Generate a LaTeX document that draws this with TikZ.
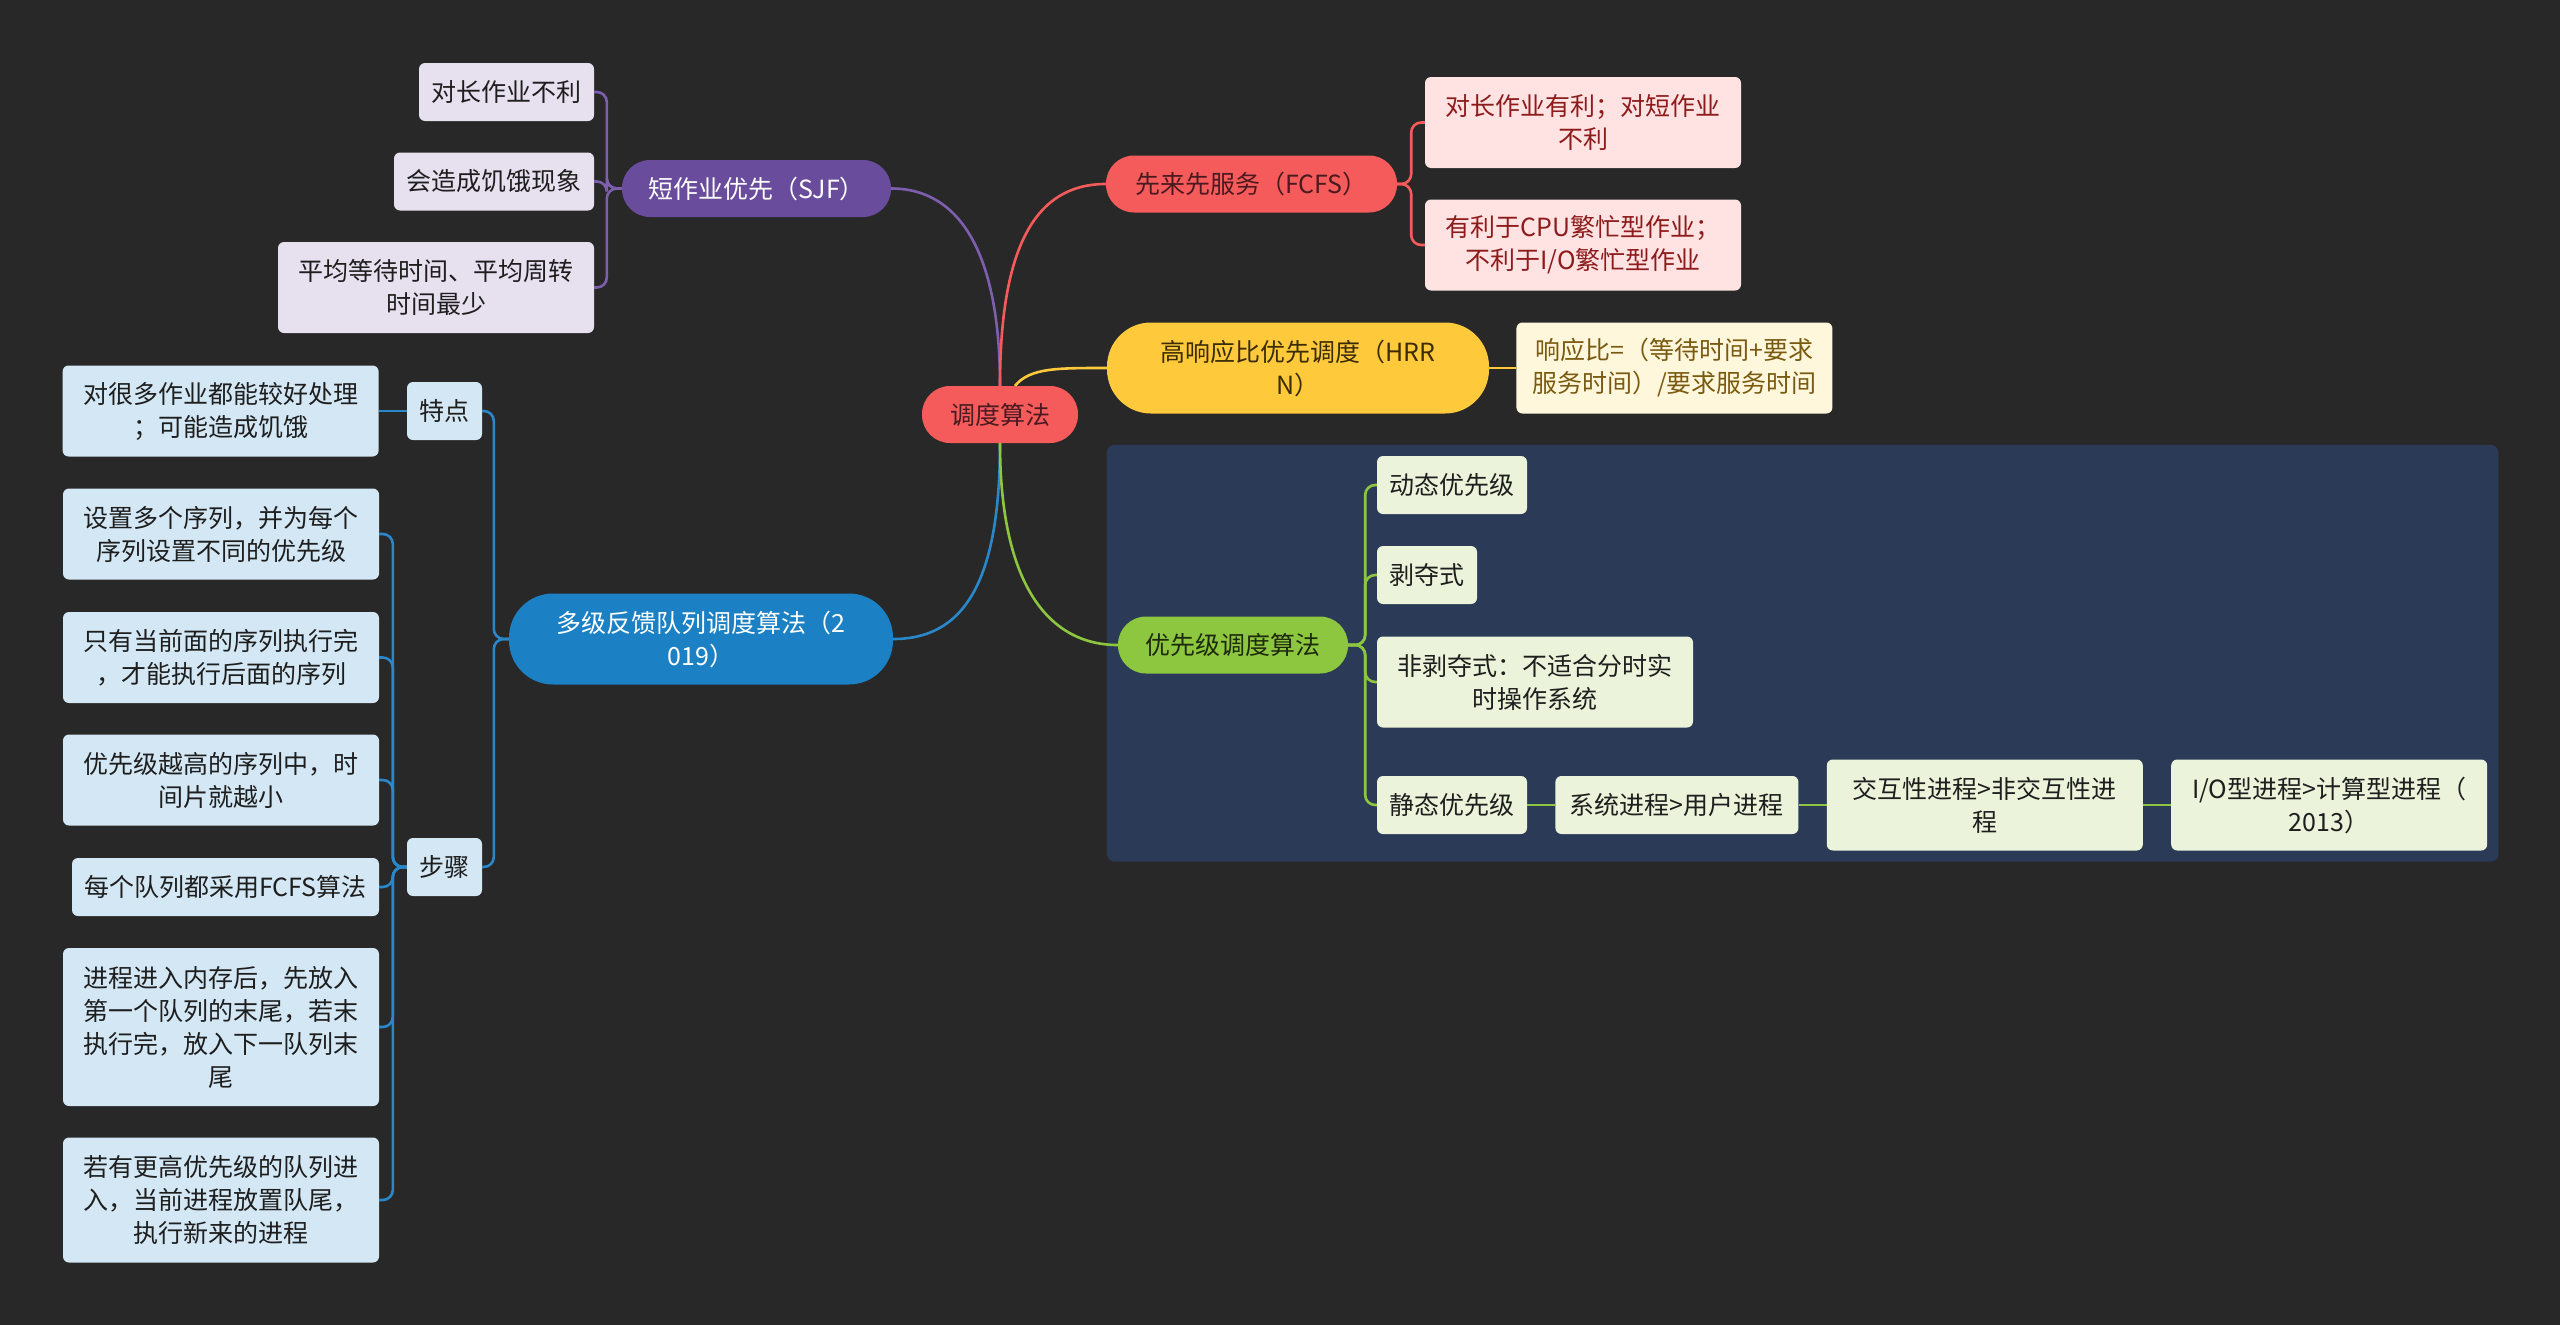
\documentclass[tikz,border=0pt]{standalone}
\usepackage{fontspec}
\setmainfont{Noto Sans CJK SC}
\usetikzlibrary{positioning,fit,backgrounds}
\definecolor{MapBg}{HTML}{282828}
\definecolor{MapGroup}{HTML}{2B3A56}
\definecolor{MapRed}{HTML}{F65B5C}
\definecolor{MapRedInk}{HTML}{4A1A20}
\definecolor{MapRedLeaf}{HTML}{FFE2E2}
\definecolor{MapRedLeafInk}{HTML}{8E1B1B}
\definecolor{MapPurple}{HTML}{6A4C9C}
\definecolor{MapPurpleLine}{HTML}{7D5FAE}
\definecolor{MapPurpleLeaf}{HTML}{E6E0EF}
\definecolor{MapYellow}{HTML}{FFC93C}
\definecolor{MapYellowInk}{HTML}{3B2C05}
\definecolor{MapYellowLeaf}{HTML}{FFF7DC}
\definecolor{MapYellowLeafInk}{HTML}{7A5A10}
\definecolor{MapGreen}{HTML}{8DC63F}
\definecolor{MapGreenInk}{HTML}{1E2A0C}
\definecolor{MapGreenLeaf}{HTML}{EBF3DA}
\definecolor{MapBlue}{HTML}{1B80C4}
\definecolor{MapBlueLine}{HTML}{2A88CA}
\definecolor{MapBlueLeaf}{HTML}{D3E7F4}
\definecolor{MapInk}{HTML}{1E1E1E}
\tikzset{
  mapfont/.style={font=\fontsize{25}{33}\selectfont},
  branch/.style={mapfont, align=center, rounded corners=28pt, minimum height=57pt,
    inner xsep=12pt, inner ysep=8pt},
  twoline/.style={rounded corners=44pt, minimum height=91pt},
  leaf/.style={mapfont, align=center, rounded corners=6pt, minimum height=58pt,
    inner xsep=10pt, inner ysep=8pt},
  widebox/.style={minimum width=316pt, minimum height=91pt},
  rootnode/.style={branch, fill=MapRed, text=MapRedInk},
  sjfbranch/.style={branch, fill=MapPurple, text=white},
  sjfleaf/.style={leaf, fill=MapPurpleLeaf, text=MapInk},
  fcfsbranch/.style={branch, fill=MapRed, text=MapRedInk},
  fcfsleaf/.style={leaf, fill=MapRedLeaf, text=MapRedLeafInk},
  hrrnbranch/.style={branch, fill=MapYellow, text=MapYellowInk},
  hrrnleaf/.style={leaf, fill=MapYellowLeaf, text=MapYellowLeafInk},
  priobranch/.style={branch, fill=MapGreen, text=MapGreenInk},
  prioleaf/.style={leaf, fill=MapGreenLeaf, text=MapInk},
  mlfqbranch/.style={branch, fill=MapBlue, text=white},
  mlfqleaf/.style={leaf, fill=MapBlueLeaf, text=MapInk},
  groupbox/.style={fill=MapGroup, rounded corners=8pt, inner sep=11pt},
  wire/.style={line width=2.6pt, rounded corners=10pt},
  sjfwire/.style={wire, draw=MapPurpleLine},
  fcfswire/.style={wire, draw=MapRed},
  hrrnwire/.style={wire, draw=MapYellow},
  priowire/.style={wire, draw=MapGreen},
  mlfqwire/.style={wire, draw=MapBlueLine}
}

\begin{document}
\begin{tikzpicture}[x=1pt, y=-1pt]
  \useasboundingbox (0,0) rectangle (2560,1325);
  \node[rootnode, minimum width=156pt] (root) at (1000,414.5) {调度算法};

  \node[sjfbranch, minimum width=269pt] (sjf) at (756.5,188.5) {短作业优先（SJF）};
  \node[sjfleaf, minimum width=175pt] (sjfa) at (506.5,92) {对长作业不利};
  \node[sjfleaf, minimum width=200pt] (sjfb) at (494,181.5) {会造成饥饿现象};
  \node[sjfleaf, widebox] (sjfc) at (436,287.5) {平均等待时间、平均周转\\时间最少};

  \node[fcfsbranch, minimum width=291pt] (fcfs) at (1251.5,184) {先来先服务（FCFS）};
  \node[fcfsleaf, widebox] (fcfsa) at (1583,122.5) {对长作业有利；对短作业\\不利};
  \node[fcfsleaf, widebox] (fcfsb) at (1583,245) {有利于CPU繁忙型作业；\\不利于I/O繁忙型作业};

  \node[hrrnbranch, twoline, minimum width=382pt] (hrrn) at (1298,368) {高响应比优先调度（HRR\\N）};
  \node[hrrnleaf, widebox, right=27pt of hrrn] (ratio) {响应比=（等待时间+要求\\服务时间）/要求服务时间};

  \node[priobranch, minimum width=230pt] (prio) at (1233,645) {优先级调度算法};
  \node[prioleaf, minimum width=150pt] (dynamic) at (1452,485) {动态优先级};
  \node[prioleaf, minimum width=100pt] (preempt) at (1427,575) {剥夺式};
  \node[prioleaf, widebox] (nonpreempt) at (1535,682) {非剥夺式：不适合分时实\\时操作系统};
  \node[prioleaf, minimum width=150pt] (static) at (1452,805) {静态优先级};
  \node[prioleaf, minimum width=243pt, right=28pt of static] (sysuser) {系统进程>用户进程};
  \node[prioleaf, widebox, right=28pt of sysuser] (interactive) {交互性进程>非交互性进\\程};
  \node[prioleaf, widebox, right=28pt of interactive] (iobound) {I/O型进程>计算型进程（\\2013）};

  \node[mlfqbranch, twoline, minimum width=384pt] (mlfq) at (701,639) {多级反馈队列调度算法（2\\019）};
  \node[mlfqleaf, minimum width=75pt] (traits) at (444.5,411) {特点};
  \node[mlfqleaf, widebox, left=28pt of traits] (traitsa) {对很多作业都能较好处理\\；可能造成饥饿};
  \node[mlfqleaf, minimum width=75pt] (steps) at (444.5,867) {步骤};
  \node[mlfqleaf, widebox] (stepa) at (221,534) {设置多个序列，并为每个\\序列设置不同的优先级};
  \node[mlfqleaf, widebox] (stepb) at (221,657.5) {只有当前面的序列执行完\\，才能执行后面的序列};
  \node[mlfqleaf, widebox] (stepc) at (221,780) {优先级越高的序列中，时\\间片就越小};
  \node[mlfqleaf, minimum width=307pt] (stepd) at (225.5,887) {每个队列都采用FCFS算法};
  \node[mlfqleaf, widebox, minimum height=158pt] (stepe) at (221,1027) {进程进入内存后，先放入\\第一个队列的末尾，若末\\执行完，放入下一队列末\\尾};
  \node[mlfqleaf, widebox, minimum height=125pt] (stepf) at (221,1200) {若有更高优先级的队列进\\入，当前进程放置队尾，\\执行新来的进程};

  \begin{scope}[on background layer]
    \fill[MapBg] (0,0) rectangle (2560,1325);
    \node[groupbox, fit=(prio)(dynamic)(iobound)(static)] (priogroup) {};
  \end{scope}

  \draw[sjfwire] (sjf.east) .. controls +(70,0) and +(0,-130) .. (root.north);
  \draw[fcfswire] (root.north) .. controls +(0,-140) and +(-70,0) .. (fcfs.west);
  \draw[hrrnwire] ([xshift=15pt]root.north) .. controls +(15,-18) and +(-50,0) .. (hrrn.west);
  \draw[mlfqwire] (root.south) .. controls +(0,140) and +(70,0) .. (mlfq.east);
  \draw[priowire] (root.south) .. controls +(0,140) and +(-70,0) .. (prio.west);

  \foreach \leaf in {sjfa,sjfb,sjfc}
    \draw[sjfwire] (sjf.west) -- ++(-15,0) |- (\leaf.east);
  \foreach \leaf in {fcfsa,fcfsb}
    \draw[fcfswire] (fcfs.east) -- ++(14,0) |- (\leaf.west);
  \draw[hrrnwire] (hrrn) -- (ratio);
  \foreach \leaf in {dynamic,preempt,nonpreempt,static}
    \draw[priowire] (prio.east) -- ++(17,0) |- (\leaf.west);
  \draw[priowire] (static) -- (sysuser);
  \draw[priowire] (sysuser) -- (interactive);
  \draw[priowire] (interactive) -- (iobound);
  \foreach \leaf in {traits,steps}
    \draw[mlfqwire] (mlfq.west) -- ++(-15,0) |- (\leaf.east);
  \draw[mlfqwire] (traits) -- (traitsa);
  \foreach \leaf in {stepa,stepb,stepc,stepd,stepe,stepf}
    \draw[mlfqwire] (steps.west) -- ++(-14,0) |- (\leaf.east);
\end{tikzpicture}
\end{document}
